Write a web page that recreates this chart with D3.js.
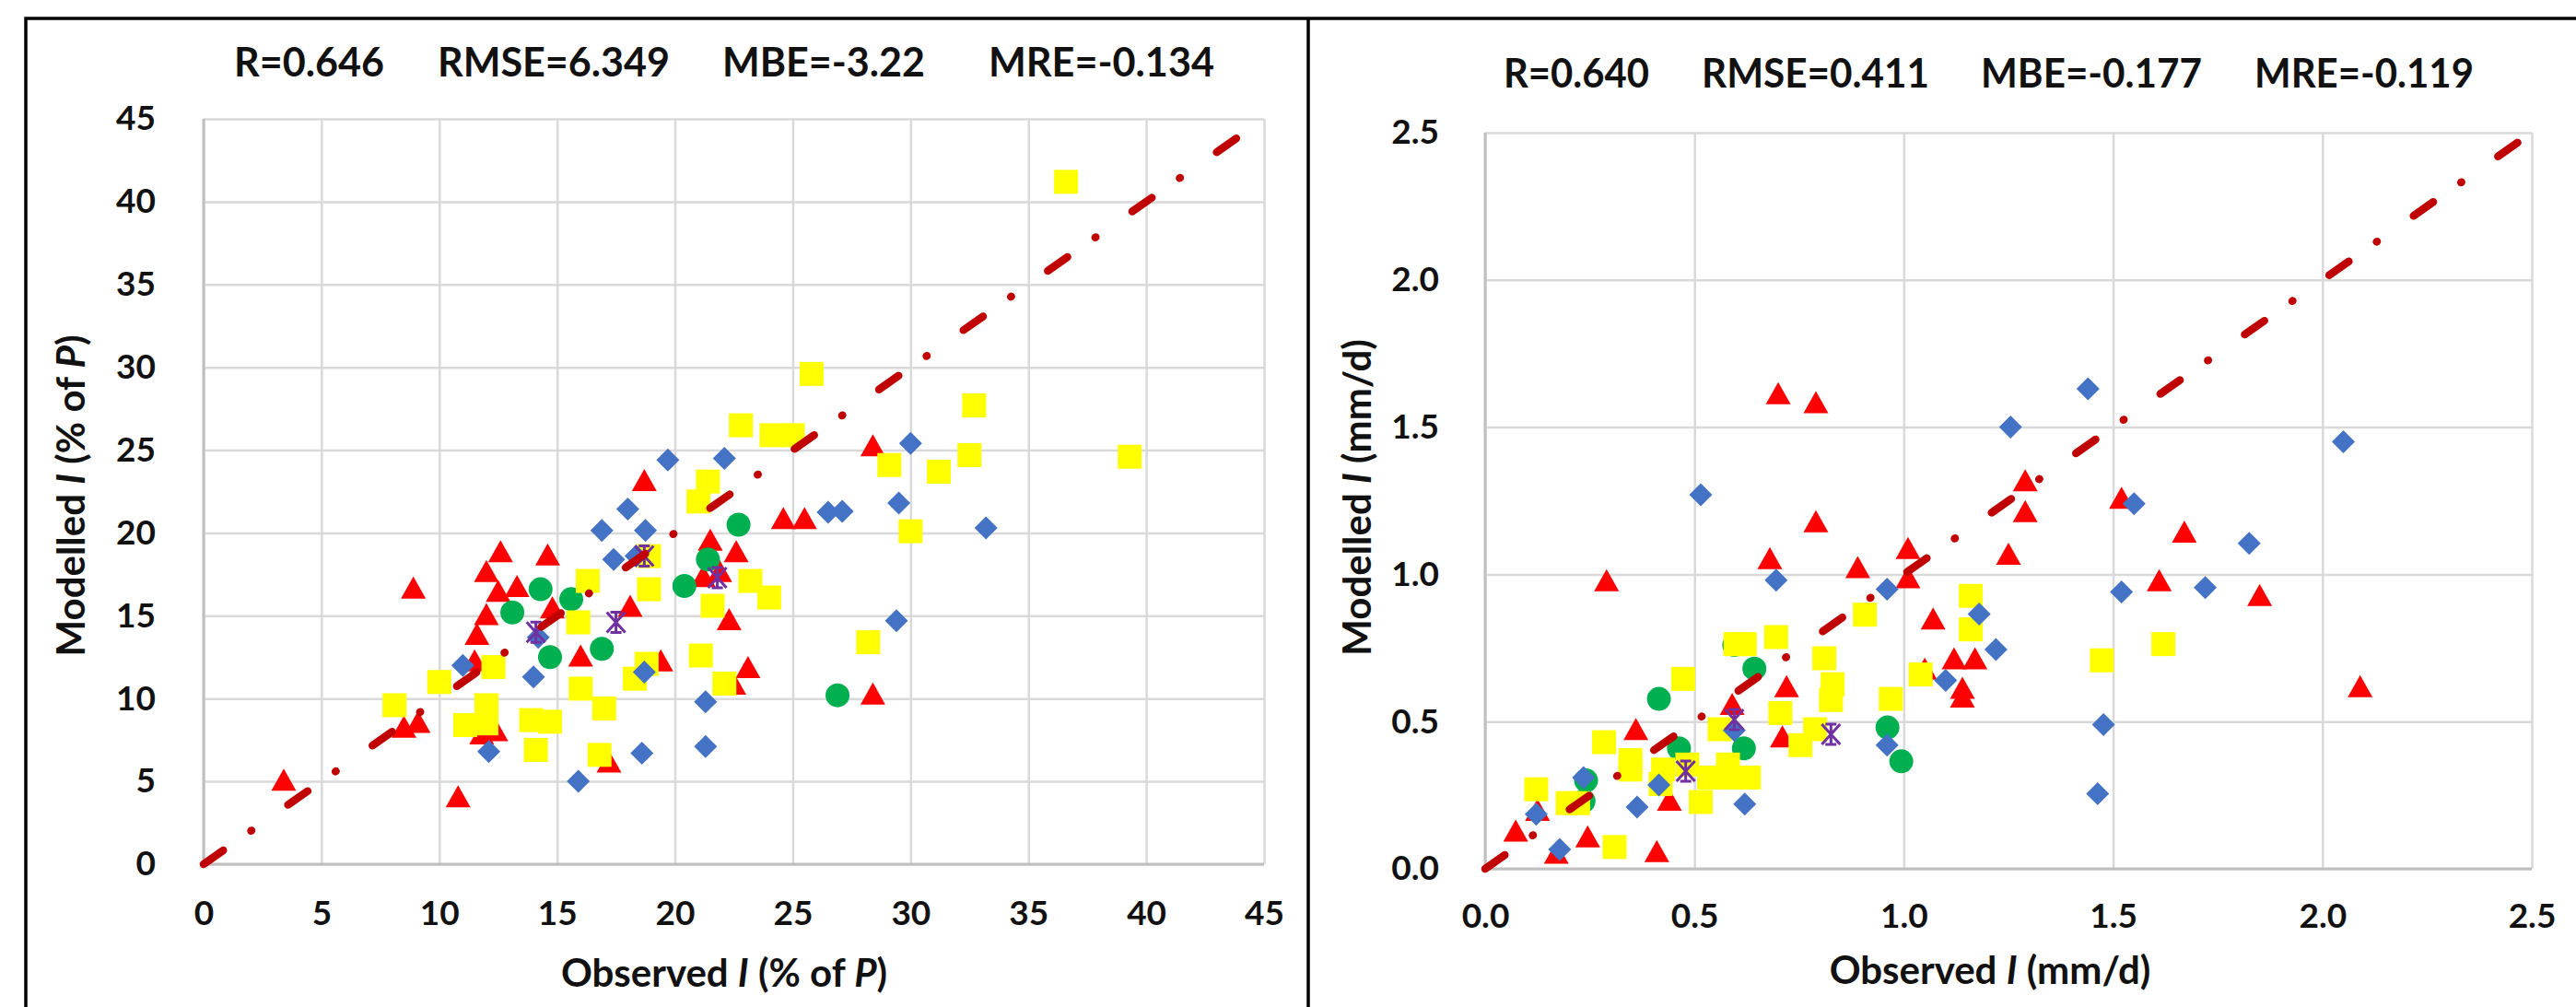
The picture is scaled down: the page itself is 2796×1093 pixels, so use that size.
<!DOCTYPE html>
<html>
<head>
<meta charset="utf-8">
<script src="https://cdn.jsdelivr.net/npm/d3@7"></script>
<style>
  body { margin: 0; background: #fff; }
  svg { display: block; font-family: Lato, "Open Sans", sans-serif; font-weight: 700; }
  .grid line { stroke: #d9d9d9; stroke-width: 2.5; }
  .tick text { fill: #111; font-size: 37px; }
  .stat { font-size: 44px; fill: #111; }
  .axis-title { font-size: 42px; fill: #111; }
</style>
</head>
<body>
<div id="chart"></div>
<script>
// ---- left panel: I as % of P ----
const leftStats = ["R=0.646", "RMSE=6.349", "MBE=-3.22", "MRE=-0.134"];
const leftTicks = [0, 5, 10, 15, 20, 25, 30, 35, 40, 45];
const leftDiamonds = [
  [19.7, 24.4], [22.1, 24.5], [30.0, 25.4], [18.0, 21.45], [16.9, 20.15], [18.75, 20.15],
  [17.4, 18.4], [18.35, 18.6], [26.5, 21.25], [27.1, 21.3], [29.5, 21.8], [33.2, 20.3],
  [29.4, 14.7], [14.2, 13.7], [11.0, 12.0], [14.0, 11.3], [18.7, 11.6], [21.3, 9.8],
  [12.1, 6.8], [15.9, 5.0], [18.6, 6.7], [21.3, 7.1]
];
const leftTriangles = [
  [18.7, 23.2], [28.4, 25.3], [24.6, 20.9], [25.5, 20.9], [21.5, 19.6], [22.6, 18.9],
  [21.9, 17.7], [21.2, 17.4], [22.3, 14.8], [23.1, 11.9], [22.5, 10.9], [28.4, 10.3],
  [19.4, 12.3], [16.0, 12.6], [18.1, 15.6], [14.6, 18.7], [12.6, 18.9], [12.0, 17.7],
  [13.3, 16.8], [12.5, 16.5], [12.0, 15.1], [11.6, 13.9], [14.8, 15.5], [11.5, 12.3],
  [8.9, 16.7], [12.4, 8.1], [11.8, 7.9], [8.5, 8.3], [9.1, 8.6], [10.8, 4.1],
  [3.4, 5.1], [17.2, 6.2]
];
const leftSquares = [
  [36.6, 41.2], [25.8, 29.6], [22.8, 26.5], [24.1, 25.9], [25.0, 25.9], [32.7, 27.7],
  [32.5, 24.7], [39.3, 24.6], [29.1, 24.1], [31.2, 23.7], [21.4, 23.1], [21.0, 21.9],
  [30.0, 20.1], [18.9, 18.6], [16.3, 17.1], [23.2, 17.1], [24.0, 16.1], [18.9, 16.6],
  [21.6, 15.6], [15.9, 14.6], [28.2, 13.4], [21.1, 12.6], [12.3, 11.9], [18.8, 12.1],
  [18.3, 11.2], [22.1, 10.9], [10.0, 11.0], [16.0, 10.6], [8.1, 9.6], [17.0, 9.4],
  [12.0, 9.6], [12.0, 8.5], [11.1, 8.4], [13.9, 8.7], [14.7, 8.6], [14.1, 6.9],
  [16.8, 6.6]
];
const leftCircles = [
  [14.3, 16.6], [15.6, 16.0], [13.1, 15.2], [14.7, 12.5], [16.9, 13.0], [20.4, 16.8],
  [21.4, 18.4], [22.7, 20.5], [26.9, 10.2]
];
const leftStars = [[18.7, 18.6], [21.8, 17.3], [17.5, 14.6], [14.1, 14.0]];

// ---- right panel: I in mm/d ----
const rightStats = ["R=0.640", "RMSE=0.411", "MBE=-0.177", "MRE=-0.119"];
const rightTicks = [0, 0.5, 1.0, 1.5, 2.0, 2.5];
const rightDiamonds = [
  [1.44, 1.63], [1.255, 1.50], [2.05, 1.45], [0.515, 1.27], [1.55, 1.24], [1.825, 1.105],
  [0.695, 0.98], [0.96, 0.95], [1.52, 0.94], [1.72, 0.955], [1.18, 0.865], [1.22, 0.745],
  [1.10, 0.64], [1.477, 0.49], [1.463, 0.255], [0.595, 0.47], [0.96, 0.42], [0.415, 0.285],
  [0.363, 0.21], [0.62, 0.22], [0.235, 0.31], [0.122, 0.185], [0.178, 0.066]
];
const rightTriangles = [
  [0.70, 1.615], [0.79, 1.585], [0.79, 1.18], [0.68, 1.055], [0.89, 1.025], [1.01, 1.09],
  [1.01, 0.99], [0.29, 0.98], [1.29, 1.32], [1.29, 1.215], [1.25, 1.07], [1.52, 1.26],
  [1.67, 1.145], [1.61, 0.98], [1.85, 0.93], [2.09, 0.62], [1.07, 0.85], [1.12, 0.715],
  [1.17, 0.715], [1.14, 0.615], [1.14, 0.585], [1.05, 0.68], [0.72, 0.62], [0.71, 0.45],
  [0.59, 0.56], [0.36, 0.475], [0.44, 0.235], [0.245, 0.11], [0.073, 0.13], [0.41, 0.06],
  [0.17, 0.055], [0.125, 0.2]
];
const rightSquares = [
  [1.16, 0.927], [1.16, 0.813], [0.907, 0.863], [0.695, 0.787], [0.598, 0.763], [0.62, 0.763],
  [0.81, 0.715], [0.83, 0.627], [0.826, 0.573], [1.04, 0.66], [0.969, 0.577], [1.473, 0.708],
  [1.62, 0.763], [0.473, 0.645], [0.705, 0.529], [0.56, 0.474], [0.788, 0.474], [0.753, 0.42],
  [0.284, 0.43], [0.347, 0.369], [0.347, 0.337], [0.425, 0.337], [0.483, 0.354], [0.419, 0.288],
  [0.535, 0.31], [0.58, 0.354], [0.59, 0.31], [0.63, 0.31], [0.515, 0.227], [0.122, 0.27],
  [0.197, 0.223], [0.222, 0.223], [0.309, 0.074]
];
const rightCircles = [
  [0.415, 0.577], [0.643, 0.68], [0.595, 0.76], [0.961, 0.48], [0.994, 0.365], [0.618, 0.409],
  [0.463, 0.409], [0.241, 0.30], [0.235, 0.23]
];
const rightStars = [[0.595, 0.507], [0.479, 0.332], [0.826, 0.457]];

const W = 2796, H = 1093;

const markerPaths = {
  diamond: "M0,-12.5L12.5,0L0,12.5L-12.5,0Z",
  triangle: "M0,-12L13.5,12L-13.5,12Z",
  square: "M-13,-13H13V13H-13Z",
  circle: "M13,0A13,13 0 1,1 -13,0A13,13 0 1,1 13,0Z",
  star: "M-10,-11L10,11M-10,11L10,-11M0,-11V11M-6,-11H6M-6,11H6",
};

function drawPanel(svg, cfg) {
  const x = d3.scaleLinear().domain(cfg.domain).range(cfg.xRange);
  const y = d3.scaleLinear().domain(cfg.domain).range(cfg.yRange);
  const plotW = cfg.xRange[1] - cfg.xRange[0];
  const plotH = cfg.yRange[0] - cfg.yRange[1];
  const g = svg.append("g");

  g.append("g")
    .attr("class", "grid")
    .attr("transform", `translate(0,${cfg.yRange[0]})`)
    .call(d3.axisBottom(x).tickValues(cfg.ticks).tickSize(-plotH).tickPadding(cfg.xPad).tickFormat(cfg.fmt))
    .attr("font-size", null)
    .attr("font-family", null)
    .call((a) => a.select(".domain").remove());
  g.append("g")
    .attr("class", "grid")
    .attr("transform", `translate(${cfg.xRange[0]},0)`)
    .call(d3.axisLeft(y).tickValues(cfg.ticks).tickSize(-plotW).tickPadding(cfg.yPad).tickFormat(cfg.fmt))
    .attr("font-size", null)
    .attr("font-family", null)
    .call((a) => a.select(".domain").remove());

  // axis lines (slightly darker than the grid)
  g.append("path")
    .attr("d", `M${cfg.xRange[0]},${cfg.yRange[1]}V${cfg.yRange[0]}H${cfg.xRange[1]}`)
    .attr("fill", "none")
    .attr("stroke", "#bfbfbf")
    .attr("stroke-width", 3);

  const series = [
    { data: cfg.triangles, shape: "triangle", fill: "#ff0000" },
    { data: cfg.circles, shape: "circle", fill: "#00b050" },
    { data: cfg.squares, shape: "square", fill: "#ffff00" },
    { data: cfg.diamonds, shape: "diamond", fill: "#4472c4" },
  ];
  series.forEach((s) => {
    g.append("g")
      .selectAll("path")
      .data(s.data)
      .join("path")
      .attr("transform", (d) => `translate(${x(d[0])},${y(d[1])})`)
      .attr("d", markerPaths[s.shape])
      .attr("fill", s.fill);
  });
  g.append("g")
    .selectAll("path")
    .data(cfg.stars)
    .join("path")
    .attr("transform", (d) => `translate(${x(d[0])},${y(d[1])})`)
    .attr("d", markerPaths.star)
    .attr("fill", "none")
    .attr("stroke", "#7030a0")
    .attr("stroke-width", 3);

  // 1:1 line
  g.append("line")
    .attr("x1", x(cfg.domain[0]))
    .attr("y1", y(cfg.domain[0]))
    .attr("x2", x(cfg.domain[1]))
    .attr("y2", y(cfg.domain[1]))
    .attr("stroke", "#c00000")
    .attr("stroke-width", 8.5)
    .attr("stroke-linecap", "round")
    .attr("stroke-dasharray", "26 37 0.5 48.5");

  // statistics line
  g.append("g")
    .selectAll("text")
    .data(cfg.stats)
    .join("text")
    .attr("class", "stat")
    .attr("x", (d, i) => cfg.statX[i])
    .attr("y", cfg.statY)
    .attr("textLength", (d, i) => cfg.statW[i])
    .attr("lengthAdjust", "spacingAndGlyphs")
    .text((d) => d);

  const title = (parts, tx, ty, rotate) => {
    const t = g.append("text")
      .attr("class", "axis-title")
      .attr("text-anchor", "middle")
      .attr("transform", `translate(${tx},${ty})${rotate ? " rotate(-90)" : ""}`);
    parts.forEach(([txt, it]) => {
      t.append("tspan").attr("font-style", it ? "italic" : null).text(txt);
    });
  };
  title(cfg.xTitle, cfg.xTitlePos[0], cfg.xTitlePos[1], false);
  title(cfg.yTitle, cfg.yTitlePos[0], cfg.yTitlePos[1], true);
}

const svg = d3.select("#chart")
  .append("svg")
  .attr("width", W)
  .attr("height", H)
  .attr("viewBox", [0, 0, W, H]);

svg.append("rect").attr("width", W).attr("height", H).attr("fill", "#fff");

drawPanel(svg, {
  domain: [0, 45],
  ticks: leftTicks,
  fmt: d3.format("d"),
  xRange: [221, 1372],
  yRange: [938, 129],
  xPad: 40,
  yPad: 52,
  diamonds: leftDiamonds,
  triangles: leftTriangles,
  squares: leftSquares,
  circles: leftCircles,
  stars: leftStars,
  stats: leftStats,
  statX: [254, 475, 784, 1073],
  statW: [163, 252, 220, 245],
  statY: 83,
  xTitle: [["Observed ", false], ["I", true], [" (% of ", false], ["P", true], [")", false]],
  xTitlePos: [786, 1071],
  yTitle: [["Modelled ", false], ["I", true], [" (% of ", false], ["P", true], [")", false]],
  yTitlePos: [92, 538],
});

drawPanel(svg, {
  domain: [0, 2.5],
  ticks: rightTicks,
  fmt: d3.format(".1f"),
  xRange: [1612, 2748],
  yRange: [943, 144],
  xPad: 38,
  yPad: 50,
  diamonds: rightDiamonds,
  triangles: rightTriangles,
  squares: rightSquares,
  circles: rightCircles,
  stars: rightStars,
  stats: rightStats,
  statX: [1632, 1847, 2150, 2447],
  statW: [158, 247, 240, 238],
  statY: 95,
  xTitle: [["Observed ", false], ["I", true], [" (mm/d)", false]],
  xTitlePos: [2160, 1068],
  yTitle: [["Modelled ", false], ["I", true], [" (mm/d)", false]],
  yTitlePos: [1488, 540],
});

// panel frames
svg.append("path")
  .attr("d", `M28,${H}V20H${W}M1420,20V${H}`)
  .attr("fill", "none")
  .attr("stroke", "#000")
  .attr("stroke-width", 3.5);
</script>
</body>
</html>
